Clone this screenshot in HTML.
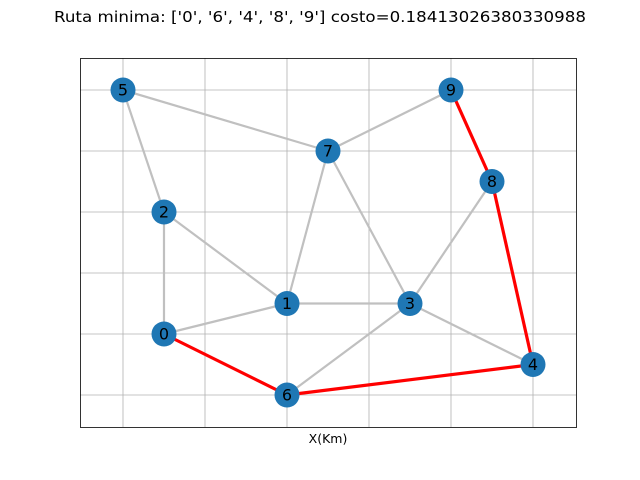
<!DOCTYPE html>
<html><head><meta charset="utf-8"><style>
body{margin:0;background:#fff;}
svg{display:block;font-family:"DejaVu Sans","Liberation Sans",sans-serif;}
</style></head><body>
<svg id="chart" width="640" height="480">
<rect x="0" y="0" width="640" height="480" fill="#fff"/>
<text x="320" y="22" text-anchor="middle" font-size="15" textLength="532" lengthAdjust="spacingAndGlyphs">Ruta minima: ['0', '6', '4', '8', '9'] costo=0.18413026380330988</text>
<g id="grid"></g>
<g id="edges"></g>
<g id="nodes"></g>
<rect x="80.5" y="58.5" width="496" height="369" fill="none" stroke="#000" stroke-width="0.8"/>
<text x="328" y="443" text-anchor="middle" font-size="12.5">X(Km)</text>
</svg>
<script>
const nodeIds=['0','1','2','3','4','5','6','7','8','9'];
const nodeX=[0.5,2,0.5,3.5,5,0,2,2.5,4.5,4];
const nodeY=[1,1.5,3,1.5,0.5,5,0,4,3.5,5];
const grayEdges=[['5','7'],['5','2'],['7','9'],['7','1'],['7','3'],['2','1'],['2','0'],['1','0'],['1','3'],['3','8'],['3','6'],['3','4']];
const pathNodes=['0','6','4','8','9'];
const gridX=[0,1,2,3,4,5];
const gridY=[0,1,2,3,4,5];
const NS='http://www.w3.org/2000/svg';
function sx(v){return 123+v*82;}
function sy(v){return 395-v*61;}
function mk(t,a,p){const e=document.createElementNS(NS,t);for(const k in a)e.setAttribute(k,a[k]);p.appendChild(e);return e;}
const g=document.getElementById('grid');
gridX.forEach(v=>{const l=mk('line',{x1:sx(v),x2:sx(v),y1:58,y2:427,stroke:'#b0b0b0','stroke-width':0.8},g);

});
gridY.forEach(v=>{const l=mk('line',{y1:sy(v),y2:sy(v),x1:80,x2:576,stroke:'#b0b0b0','stroke-width':0.8},g);

});
const eg=document.getElementById('edges');
function pos(id){const i=nodeIds.indexOf(id);return [sx(nodeX[i]),sy(nodeY[i])];}
grayEdges.forEach(([a,b])=>{const p=pos(a),q=pos(b);
const l=mk('line',{x1:p[0],y1:p[1],x2:q[0],y2:q[1],stroke:'#c0c0c0','stroke-width':2.2},eg);

});
for(let i=0;i<pathNodes.length-1;i++){const p=pos(pathNodes[i]),q=pos(pathNodes[i+1]);
const l=mk('line',{x1:p[0],y1:p[1],x2:q[0],y2:q[1],stroke:'#ff0000','stroke-width':3.2},eg);

}
const ng=document.getElementById('nodes');
nodeIds.forEach((id,i)=>{const c=mk('circle',{cx:sx(nodeX[i]),cy:sy(nodeY[i]),r:12.5,fill:'#1f77b4'},ng);


const t=mk('text',{x:sx(nodeX[i]),y:sy(nodeY[i])+5.5,'text-anchor':'middle','font-size':16},ng);
t.textContent=id;

});
</script>
</body></html>
